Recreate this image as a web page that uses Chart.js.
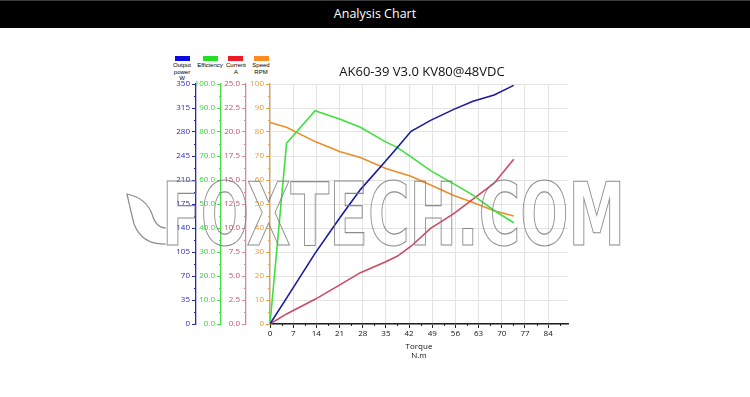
<!DOCTYPE html>
<html>
<head>
<meta charset="utf-8">
<script src="https://cdn.jsdelivr.net/npm/chart.js@4"></script>
<style>
  html,body{margin:0;padding:0;background:#fff;width:750px;height:397px;overflow:hidden;font-family:"Open Sans",sans-serif;}
  #hdr{position:absolute;left:0;top:0;width:750px;height:28px;background:#000;border-top:1px solid #3a3a3a;box-sizing:border-box;color:#fff;font-size:12.5px;line-height:26px;text-align:center;}
  #wrap{position:absolute;left:0;top:28px;width:750px;height:369px;}
  .lg{position:absolute;top:56px;width:15px;height:5px;}
  .lt{position:absolute;top:62px;width:40px;text-align:center;font-size:6px;line-height:6.5px;color:#000;font-family:"Liberation Sans",sans-serif;}
</style>
</head>
<body>
<div id="hdr">Analysis Chart</div>
<div class="lg" style="left:175px;background:#0a0ae0"></div>
<div class="lg" style="left:203px;background:#22e022"></div>
<div class="lg" style="left:228px;background:#ee1a28"></div>
<div class="lg" style="left:254px;background:#ff8c22"></div>
<div class="lt" style="left:162px">Output<br>power<br>W</div>
<div class="lt" style="left:190px">Efficiency</div>
<div class="lt" style="left:216px">Current<br>A</div>
<div class="lt" style="left:241px">Speed<br>RPM</div>
<div id="wrap"><canvas id="c" width="750" height="369"></canvas></div>
<script>
// ---- data ----
const chartTitle = "AK60-39 V3.0 KV80@48VDC";
const torque     = [0, 5, 13.6, 21.2, 27.3, 34.8, 38.4, 42.6, 48.5, 55.5, 61.3, 67.7, 73.6];
const power      = [0, 37.8, 103, 155.6, 196, 237, 257, 281, 297, 313, 325, 334, 348];
const efficiency = [0, 75.3, 88.9, 85.3, 82, 76, 73.6, 69.6, 63.9, 58.4, 53.7, 47.3, 42.2];
const current    = [0, 1.05, 2.57, 4.1, 5.35, 6.46, 7.05, 8.1, 9.96, 11.5, 13.0, 14.66, 17.15];
const speed      = [84, 82, 76, 71.8, 69.4, 64.9, 63.3, 61.6, 57.9, 53.5, 50.6, 47.2, 45];
const xTicks     = [0, 7, 14, 21, 28, 35, 42, 49, 56, 63, 70, 77, 84];
const watermark  = "FOXTECH.COM";

const pts = arr => torque.map((t, i) => ({x: t, y: arr[i]}));

const C = {
  blue:  {line:'#1a1a9e', axis:'#2a2aa8', text:'#2b2bb5'},
  green: {line:'#3ee03e', axis:'#44e044', text:'#38d038'},
  red:   {line:'#cc4a62', axis:'#d88a98', text:'#c8506a'},
  orange:{line:'#ec8c2a', axis:'#e8a040', text:'#e39a30'}
};

const tickFont = {family:"'Open Sans', sans-serif", size: 8};

function yAxis(col, min, max, step, dec, w, weight, grid) {
  return {
    type:'linear', position:'left', min, max, weight,
    ticks:{stepSize: step, color: col.text, font: tickFont, padding: 2,
           callback: v => dec ? Number(v).toFixed(dec) : String(v)},
    grid:{drawOnChartArea: grid, color:'#e3e3e3', tickColor: col.axis, tickLength: 4, lineWidth: 1},
    border:{display:true, color: col.axis, width: 1.3},
    afterFit: s => { s.width = w; }
  };
}

const minorTicks = {
  id:'minorTicks',
  afterDraw(chart) {
    const ctx = chart.ctx;
    ctx.save();
    ctx.lineWidth = 1;
    const defs = [['yP', 17.5, C.blue.axis], ['yE', 5, C.green.axis], ['yC', 1.25, C.red.axis], ['yS', 5, C.orange.axis]];
    defs.forEach(([id, step, col]) => {
      const s = chart.scales[id];
      ctx.strokeStyle = col;
      for (let v = step; v < s.max; v += step * 2) {
        const y = Math.round(s.getPixelForValue(v)) + 0.5;
        ctx.beginPath(); ctx.moveTo(s.right - 2, y); ctx.lineTo(s.right, y); ctx.stroke();
      }
    });
    const xs = chart.scales.x;
    ctx.strokeStyle = '#222';
    for (let v = 3.5; v < xs.max; v += 7) {
      const x = Math.round(xs.getPixelForValue(v)) + 0.5;
      ctx.beginPath(); ctx.moveTo(x, xs.top); ctx.lineTo(x, xs.top + 2); ctx.stroke();
    }
    // title
    ctx.fillStyle = '#111';
    ctx.font = "13px 'Open Sans', sans-serif";
    ctx.textAlign = 'center'; ctx.textBaseline = 'middle';
    ctx.fillText(chartTitle, 422, 44);
    // watermark tail
    ctx.strokeStyle = 'rgba(120,120,120,0.85)';
    ctx.lineWidth = 1.2;
    ctx.beginPath();
    ctx.moveTo(166, 216);
    ctx.quadraticCurveTo(142, 217, 134, 196);
    ctx.quadraticCurveTo(130, 180, 127, 166);
    ctx.quadraticCurveTo(146, 170, 152, 186);
    ctx.quadraticCurveTo(156, 200, 166, 200);
    ctx.stroke();
    // watermark text
    ctx.font = "bold 90px 'DejaVu Sans Condensed', 'DejaVu Sans', sans-serif";
    ctx.textAlign = 'left'; ctx.textBaseline = 'alphabetic';
    const w = ctx.measureText(watermark).width;
    ctx.translate(162, 217);
    ctx.scale(463 / w, 0.97);
    ctx.strokeText(watermark, 0, 0);
    ctx.restore();
  }
};

const ds = (label, data, col, axis) => ({
  label, data: pts(data), yAxisID: axis, borderColor: col.line, backgroundColor: col.line,
  borderWidth: 1.6, pointRadius: 0, tension: 0, fill: false
});

new Chart(document.getElementById('c'), {
  type: 'line',
  data: {
    datasets: [
      ds('Output power W', power, C.blue, 'yP'),
      ds('Efficiency', efficiency, C.green, 'yE'),
      ds('Current A', current, C.red, 'yC'),
      ds('Speed RPM', speed, C.orange, 'yS')
    ]
  },
  options: {
    responsive: false, devicePixelRatio: 1, animation: false,
    layout: {padding: {left: 165, right: 182, top: 56, bottom: 36}},
    plugins: {legend: {display: false}, title: {display: false}, tooltip: {enabled: false}},
    scales: {
      x: {
        type: 'linear', min: 0, max: 90,
        afterBuildTicks: s => { s.ticks = xTicks.map(v => ({value: v})); },
        ticks: {color: '#111', font: tickFont, padding: 1, autoSkip: false, maxRotation: 0},
        grid: {color: '#e3e3e3', tickColor: '#222', tickLength: 4},
        border: {display: true, color: '#222', width: 1.5},
        title: {display: true, text: ['Torque', 'N.m'], color: '#111', font: {family:"'Open Sans', sans-serif", size: 8}, padding: {top: 0, bottom: 0}},
        afterFit: s => { s.height = 37; }
      },
      yP: yAxis(C.blue, 0, 350, 35, 0, 31, 4, false),
      yE: yAxis(C.green, 0, 100, 10, 1, 25, 3, false),
      yC: yAxis(C.red, 0, 25, 2.5, 1, 25, 2, false),
      yS: yAxis(C.orange, 0, 100, 10, 0, 24, 1, true)
    }
  },
  plugins: [minorTicks]
});
</script>
</body>
</html>
